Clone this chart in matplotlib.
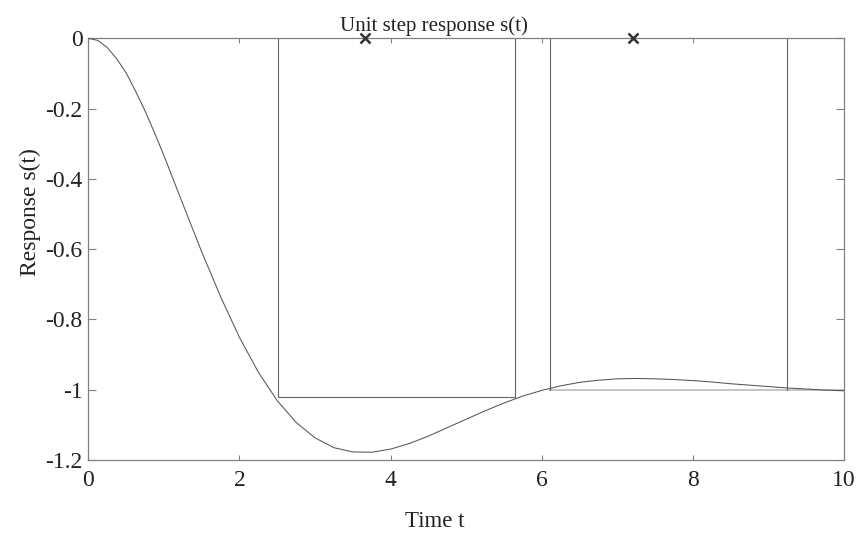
import matplotlib
matplotlib.use("Agg")
import matplotlib.pyplot as plt
import numpy as np

plt.rcParams['font.family'] = ['Liberation Serif', 'DejaVu Serif']

# Data
t = [0.0, 0.125, 0.25, 0.375, 0.5, 0.625, 0.75, 0.875, 1.0, 1.25, 1.5, 1.75, 2.0,
     2.25, 2.5, 2.75, 3.0, 3.25, 3.5, 3.75, 4.0, 4.25, 4.5, 4.75, 5.0, 5.25, 5.5,
     5.75, 6.0, 6.25, 6.5, 6.75, 7.0, 7.25, 7.5, 7.75, 8.0, 8.25, 8.5, 8.75, 9.0,
     9.25, 9.5, 9.75, 10.0]
s = [0.0, -0.006, -0.026, -0.058, -0.098, -0.150, -0.206, -0.268, -0.333, -0.471,
     -0.607, -0.735, -0.851, -0.950, -1.031, -1.093, -1.137, -1.165, -1.177, -1.178,
     -1.169, -1.153, -1.132, -1.108, -1.084, -1.060, -1.038, -1.018, -1.002, -0.989,
     -0.979, -0.973, -0.969, -0.968, -0.969, -0.971, -0.974, -0.978, -0.983, -0.987,
     -0.991, -0.995, -0.998, -1.001, -1.003]

box1_x = [2.51, 2.51, 5.64, 5.64]
box1_y = [0.0, -1.02, -1.02, 0.0]
box2_left = 6.11
box2_right = 9.25
box2_bottom = -1.0
peak_t = [3.66, 7.21]
peak_v = [0.0, 0.0]

xticks = [0, 2, 4, 6, 8, 10]
yticks = [0, -0.2, -0.4, -0.6, -0.8, -1, -1.2]
ytick_labels = ['0', '-0.2', '-0.4', '-0.6', '-0.8', '-1', '-1.2']

fig = plt.figure(figsize=(8.63, 5.36), dpi=100)
ax = fig.add_axes([0.1023, 0.1418, 0.8757, 0.7867])

ax.plot(t, s, color='#555555', lw=0.75, zorder=3)
ax.plot(box1_x, box1_y, color='#666666', lw=0.8, zorder=2)
ax.plot([box2_left, box2_left], [0, box2_bottom], color='#666666', lw=0.8, zorder=2)
ax.plot([box2_right, box2_right], [0, box2_bottom], color='#666666', lw=0.8, zorder=2)
ax.plot([box2_left, 10], [box2_bottom, box2_bottom], color='#c4c4c4', lw=1.4, zorder=1)
ax.plot(peak_t, peak_v, linestyle='none', marker='x', markersize=7, mew=1.8,
        color='#333333', clip_on=False, zorder=5)

ax.set_xlim(0, 10)
ax.set_ylim(-1.2, 0)
ax.set_xticks(xticks)
ax.set_xticklabels([str(v) for v in xticks])
ax.set_yticks(yticks)
ax.set_yticklabels(ytick_labels)

for sp in ax.spines.values():
    sp.set_color('#808080')
    sp.set_linewidth(0.9)

ax.tick_params(axis='both', direction='in', top=True, right=True, colors='#808080',
               labelcolor='#222222', labelsize=17, width=0.8)
ax.tick_params(axis='x', length=3.5, pad=7)
ax.tick_params(axis='y', length=6, pad=4)

ax.set_title('Unit step response s(t)', fontsize=15, x=0.458, pad=5, color='#222222')
ax.set_xlabel('Time t', fontsize=16.5, color='#222222', va='top')
ax.xaxis.set_label_coords(0.458, -0.12)
ax.set_ylabel('Response s(t)', fontsize=17, color='#222222')
ax.yaxis.set_label_coords(-0.063, 0.588)

fig.savefig('out.png', dpi=100)
